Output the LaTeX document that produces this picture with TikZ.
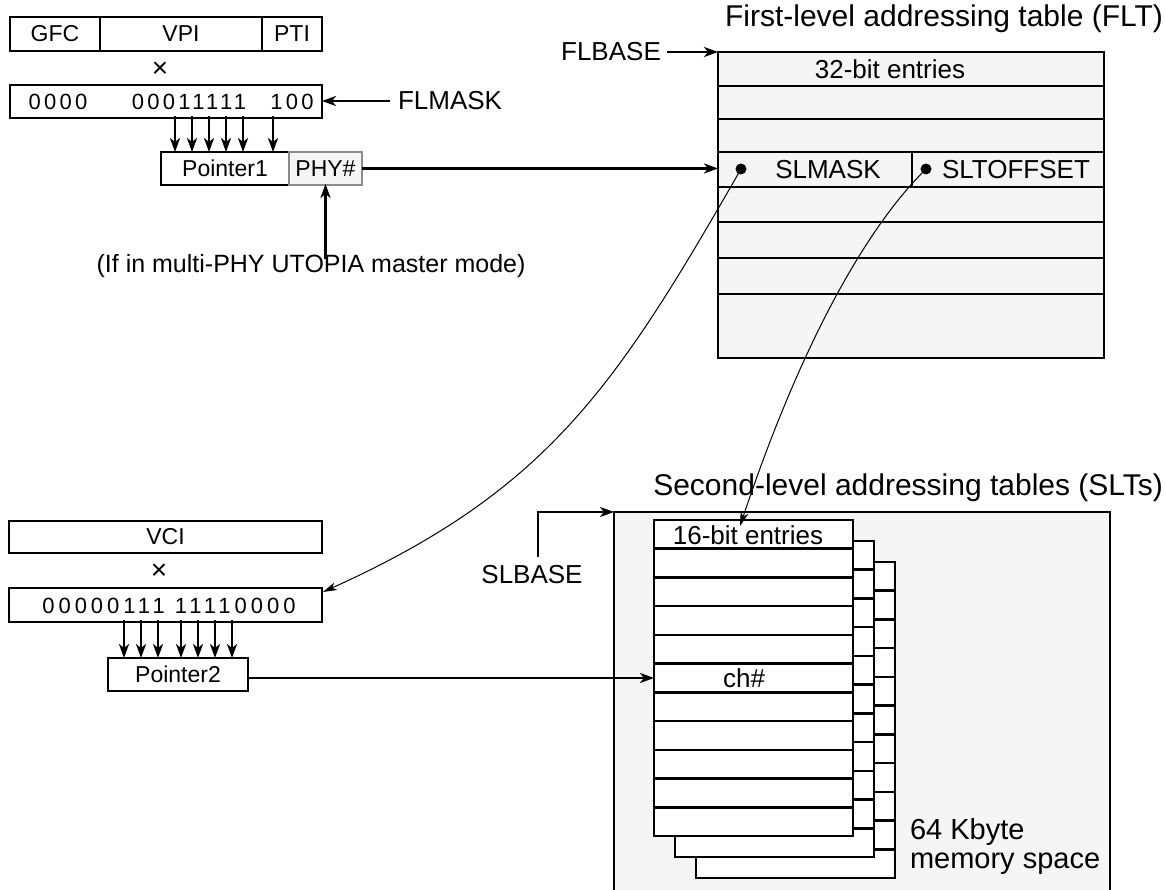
\documentclass[tikz,border=0pt]{standalone}
\usepackage{fontspec}
\setmainfont{Liberation Sans}
\newfontfamily\digitsfont[LetterSpace=15]{Liberation Sans}
\newfontfamily\digitsfontb[LetterSpace=18]{Liberation Sans}
\usetikzlibrary{arrows.meta}
\definecolor{panel}{HTML}{F5F5F5}
\definecolor{graybd}{HTML}{8C8C8C}
\begin{document}
\begin{tikzpicture}[x=1pt,y=-1pt,
  font=\fontsize{23}{27}\selectfont,
  lw/.style={line width=2.6pt},
  cell/.style 2 args={draw=black, lw, inner sep=0pt, outer sep=0pt,
    minimum width=#1, minimum height=#2, anchor=north west},
  txt/.style={inner sep=0pt, outer sep=0pt},
  big/.style={txt, font=\fontsize{26}{30}\selectfont},
  title/.style={txt, font=\fontsize{30}{34}\selectfont},
  arr/.style={lw, -{Stealth[length=14pt,width=10pt,inset=4pt]}},
  thinarr/.style={line width=1pt, -{Stealth[length=14pt,width=8pt,inset=4pt]}},
  dot/.style={circle, fill=black, inner sep=0pt, minimum size=11pt},
  times/.style={txt, font=\fontsize{28}{30}\selectfont}]
\useasboundingbox (0,0) rectangle (1165,890);

% ---------- top left ----------
\node[cell={312pt}{34pt}] (hdr) at (10,17) {};
\draw[lw] (100,17) -- (100,51) (262,17) -- (262,51);
\node[txt] (gfc) at (55,34) {GFC};
\node[txt] (vpi) at (181,34) {VPI};
\node[txt] (pti) at (292,34) {PTI};
\node[times] (x1) at (160,70) {×};

\node[cell={312pt}{33pt}] (m1) at (10,85) {};
\node[txt, font=\fontsize{22}{26}\digitsfont] (m1a) at (58,102) {0000};
\node[txt, font=\fontsize{22}{26}\digitsfont] (m1b) at (189,102) {00011111};
\node[txt, font=\fontsize{22}{26}\digitsfont] (m1c) at (292,102) {100};
\node[big, anchor=west] (flmask) at (398,101) {FLMASK};
\draw[arr] ([xshift=-8pt]flmask.west) -- (m1.east |- flmask.west);

\node[cell={128pt}{33pt}] (p1) at (161,152) {};
\node[txt] (p1t) at (p1.center) {Pointer1};
\node[cell={73pt}{33pt}, draw=graybd, fill=panel] (phy) at (289,152) {};
\node[txt] (phyt) at (phy.center) {PHY\#};
\foreach \x in {175,192,209,226,243,273}
  \draw[arr] ([yshift=2pt]m1.south -| \x,0) -- (p1.north -| \x,0);

\node[txt, font=\fontsize{25}{29}\selectfont] (note) at (311,266) {(If in multi-PHY UTOPIA master mode)};
\draw[arr] ([yshift=-5pt]phy.south |- note.north) -- ([yshift=1pt]phy.south);

% ---------- FLT ----------
\node[title, anchor=east] (flttitle) at (1163,19) {First-level addressing table (FLT)};
\node[cell={386pt}{306pt}, fill=panel] (flt) at (718,52) {};
\foreach \y in {86,119,152,187,222,258,294}
  \draw[lw] (718,\y) -- (1104,\y);
\draw[line width=1.4pt] (912,152) -- (912,187);
\node[big] (e32) at (890,69) {32-bit entries};
\node[big] (slmask) at (828,170) {SLMASK};
\node[big] (sltoff) at (1016,170) {SLTOFFSET};
\node[dot] (d1) at (741,169) {};
\node[dot] (d2) at (926,169) {};
\node[big] (flbase) at (611,52) {FLBASE};
\draw[arr] ([xshift=6pt]flbase.east) -- (flbase.east -| flt.west);
\draw[arr] (phy.east) -- (flt.west |- phy.east);

% ---------- SLT ----------
\node[title, anchor=east] (slttitle) at (1163,488) {Second-level addressing tables (SLTs)};
\node[cell={496pt}{381pt}, fill=panel] (mem) at (614,512) {};
\foreach \k in {2,1,0} {
  \pgfmathsetmacro\ox{654+21*\k}
  \pgfmathsetmacro\oy{520+21*\k}
  \fill[white] (\ox,\oy) rectangle ++(199,316);
  \foreach \r in {1,...,10} \draw[lw] (\ox,\oy+\r*28.73) -- ++(199,0);
  \draw[lw] (\ox,\oy) rectangle ++(199,316);
}
\node[inner sep=0pt, outer sep=0pt, minimum width=199pt, minimum height=316pt,
  anchor=north west] (slt) at (654,520) {};
\node[big] (e16) at (748,535) {16-bit entries};
\node[big] (ch) at (744,678) {ch\#};
\node[txt, anchor=west, font=\fontsize{29}{31}\selectfont] (kb) at (910,832) {64 Kbyte};
\node[txt, anchor=west, font=\fontsize{29}{31}\selectfont] (ms) at (910,864) {memory space};
\node[big] (slbase) at (532,575) {SLBASE};
\coordinate (slb) at (538,557);
\draw[arr] (slb) |- (mem.north west);

% ---------- bottom left ----------
\node[cell={313pt}{32pt}] (vci) at (9,521) {};
\node[txt] (vcit) at (vci.center) {VCI};
\node[times] (x2) at (159,572) {×};
\node[cell={313pt}{34pt}] (m2) at (9,588) {};
\node[txt, font=\fontsize{22}{26}\digitsfontb] (m2t) at (169,606) {00000111 11110000};
\node[cell={140pt}{33pt}] (p2) at (108,658) {};
\node[txt] (p2t) at (p2.center) {Pointer2};
\foreach \x in {124,141,158,181,198,215,232}
  \draw[arr] ([yshift=2pt]m2.south -| \x,0) -- (p2.north -| \x,0);
\draw[arr] (p2.east |- slt.west) -- (slt.west);

% ---------- curves ----------
\coordinate (m2in) at (323,592);
\coordinate (slt16) at (740,526);
\draw[thinarr] (d1.center) .. controls (617,385) and (549,490) .. (m2in);
\draw[thinarr] (d2.center) .. controls (870,224) and (804,335) .. (slt16);
\end{tikzpicture}
\end{document}
